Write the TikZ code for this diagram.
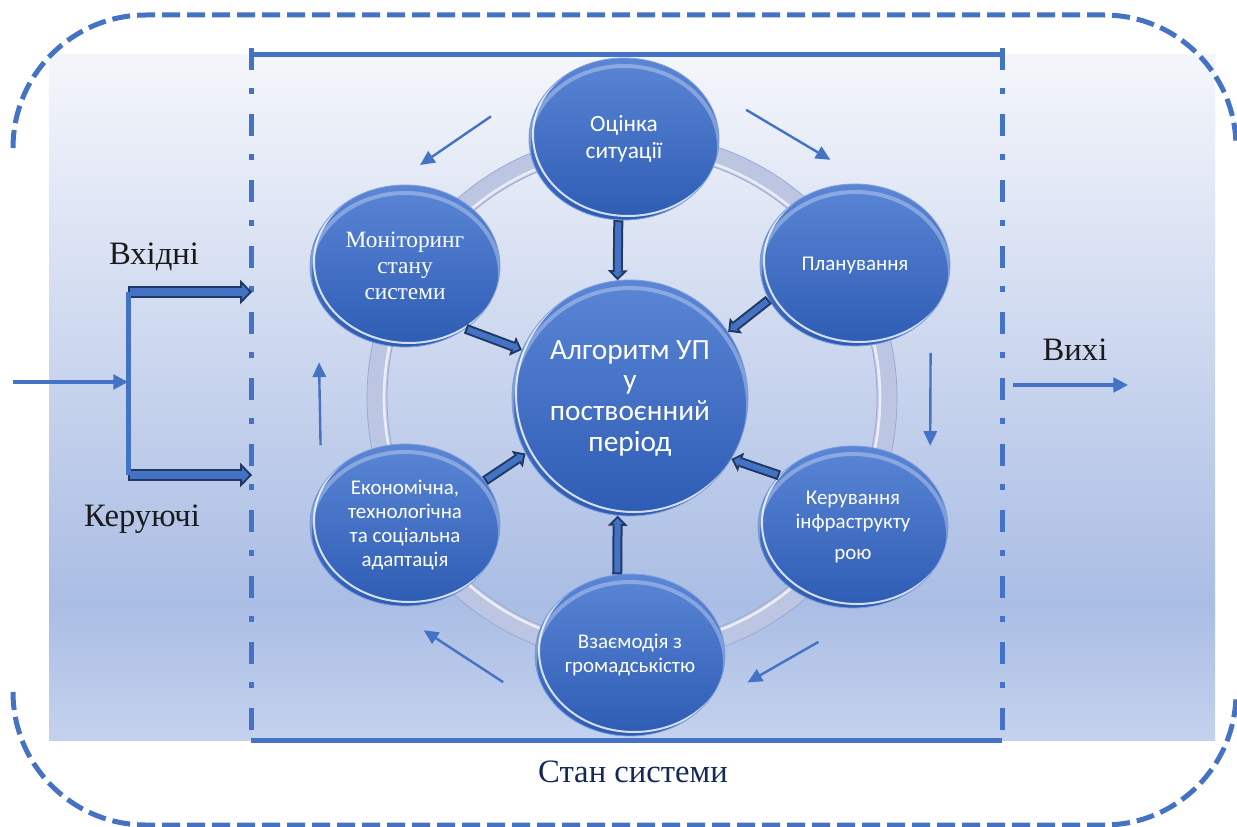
\documentclass[tikz,border=0pt]{standalone}
\usepackage{fontspec}
\setmainfont{Liberation Serif}
\newfontfamily\cbfont{Carlito}
\usetikzlibrary{arrows.meta,shapes.geometric,calc}

\definecolor{lineblue}{HTML}{4472C4}
\definecolor{navy}{HTML}{1F3864}
\definecolor{bgtop}{HTML}{F4F6FB}
\definecolor{bgmid}{HTML}{AABDE4}
\definecolor{bgbot}{HTML}{C4D2EE}
\definecolor{nodetop}{HTML}{5B86D6}
\definecolor{nodebot}{HTML}{2D5CB4}
\definecolor{noderim}{HTML}{7E9FDC}
\definecolor{ringc}{HTML}{BCC5E2}
\definecolor{ringedge}{HTML}{98A5CF}
\definecolor{labelc}{HTML}{1A1A1A}
\definecolor{statec}{HTML}{14285A}

\pgfdeclareverticalshading{bgfade}{100bp}{color(0bp)=(bgbot); color(25bp)=(bgbot); color(35bp)=(bgmid); color(75bp)=(bgtop); color(100bp)=(bgtop)}

\tikzset{
  bub/.style 2 args={ellipse, inner sep=0pt, minimum width=2*#1, minimum height=2*#2,
    top color=nodetop, bottom color=nodebot, draw=noderim, line width=.6pt,
    text=white, align=center, font=\cbfont\fontsize{15.7}{18}\selectfont,
    path picture={
      \draw[white, opacity=.8, line width=1.5pt]
        ([xshift=3pt,yshift=3pt]path picture bounding box.center) ellipse [x radius=#1, y radius=#2];
      \draw[white, opacity=.3, line width=3pt]
        ([yshift=-6pt]path picture bounding box.center) ellipse [x radius=#1, y radius=#2];
    }},
  blk/.style={draw=navy, line width=7.5pt,
    -{Triangle[length=7.5pt,width=15pt,line width=0pt]},
    postaction={draw=lineblue, line width=4.5pt, shorten <=1.5pt, shorten >=2.1pt,
      -{Triangle[length=3.9pt,width=7.8pt,line width=0pt]}}},
  blkwide/.style={draw=navy, line width=9pt,
    -{Triangle[length=9pt,width=18.75pt,line width=0pt]},
    postaction={draw=lineblue, line width=6pt, shorten <=1.5pt, shorten >=2.1pt,
      -{Triangle[length=5.4pt,width=11.2pt,line width=0pt]}}},
  cyc/.style={lineblue, line width=1.8pt, -{Triangle[length=11pt,width=10pt]}},
  io/.style={lineblue, line width=2.4pt, -{Triangle[length=11pt,width=11pt]}},
  outer/.style={lineblue, line width=3.75pt, dash pattern=on 13.5pt off 5.25pt},
  frame/.style={lineblue, line width=3.75pt},
  framedash/.style={dash pattern=on 16.5pt off 13.5pt on 4.5pt off 15pt},
  lbl/.style={text=labelc, font=\fontsize{24.5}{28}\selectfont, inner sep=0pt}
}

\begin{document}
\begin{tikzpicture}[x=0.75pt,y=0.75pt,yscale=-1,xscale=1]
\useasboundingbox (0,0) rectangle (1237,827);

% background
\shade[shading=bgfade] (49,55) rectangle (1215,740);

% outer dashed border
\draw[outer] (13,148) arc[start angle=180,end angle=270,radius=133] -- (1104,15) arc[start angle=270,end angle=360,radius=132];
\draw[outer] (13,692) arc[start angle=180,end angle=90,radius=133] -- (1104,825) arc[start angle=90,end angle=0,radius=132];

% system frame
\draw[frame] (251,55) -- (1002,55);
\draw[frame] (251,740) -- (1002,740);
\draw[frame, framedash] (251,48) -- (251,736);
\draw[frame, framedash] (1002,48) -- (1002,736);

% ring
\coordinate (ring) at (632,398);
\draw[ringc, line width=15pt] (ring) circle (255);
\draw[ringedge, line width=.5pt] (ring) circle (265) (ring) circle (245);
\draw[white, opacity=.7, line width=2pt] (ring) circle (248);

% cycle arrows
\foreach \a/\b/\r in {-116.6/-132.3/315, -68.4/-50.2/310, -8.6/9.1/302, 52.6/67.9/307, 114.4/131.9/312, 171.4/186.5/315}
  \draw[cyc] ($(ring)+(\a:\r)$) -- ($(ring)+(\b:\r)$);

% stages
\node[bub={88.5pt}{88.5pt}, font=\cbfont\fontsize{22}{23}\selectfont] (alg) at (630,398) {Алгоритм УП\\у\\поствоєнний\\період};
\node[bub={71.25pt}{60.75pt}, font=\cbfont\fontsize{17.5}{20.5}\selectfont] (ocin) at (624,139) {Оцінка\\ситуації};
\node[bub={71.25pt}{60.75pt}] (plan) at (855,265) {Планування};
\node[bub={71.25pt}{60.75pt}] (ker) at (853,527) {Керування\\інфраструкту\\[5pt]рою};
\node[bub={71.25pt}{60.75pt}] (vz) at (630,655) {Взаємодія з\\громадськістю};
\node[bub={71.25pt}{60.75pt}] (ekon) at (405,525) {Економічна,\\технологічна\\та соціальна\\адаптація};
\node[bub={71.25pt}{60.75pt}, font=\fontsize{17.5}{19.5}\selectfont] (mon) at (405,266) {Моніторинг\\стану\\системи};

% into the algorithm
\draw[blk] (ocin.266) -- (alg.96);
\draw[blk] (plan.202) -- (alg.34);
\draw[blk] (ker.145) -- (alg.329);
\draw[blk] (vz.99) -- (alg.264);
\draw[blk] (ekon.29) -- (alg.208);
\draw[blk] (mon.314) -- (alg.156);

% inputs
\coordinate (src) at (13,382);
\coordinate (fork) at (128,382);
\coordinate (forkT) at (128,292);
\coordinate (forkB) at (128,475);
\coordinate (inT) at (252,292);
\coordinate (inB) at (252,475);
\draw[blkwide] (forkT) -- (inT);
\draw[blkwide] (forkB) -- (inB);
\draw[io] (src) -- (fork);
\draw[frame] (forkT) -- (forkB);

% output
\coordinate (outA) at (1013,385);
\coordinate (outB) at (1128,385);
\draw[io] (outA) -- (outB);

% labels
\node[lbl] (inlbl) at (154,257) {Вхідні};
\node[lbl] (ctrl) at (142,519) {Керуючі};
\node[lbl] (outlbl) at (1075,350) {Вихі};
\node[lbl, text=statec] (state) at (633,772) {Стан системи};

\end{tikzpicture}
\end{document}
